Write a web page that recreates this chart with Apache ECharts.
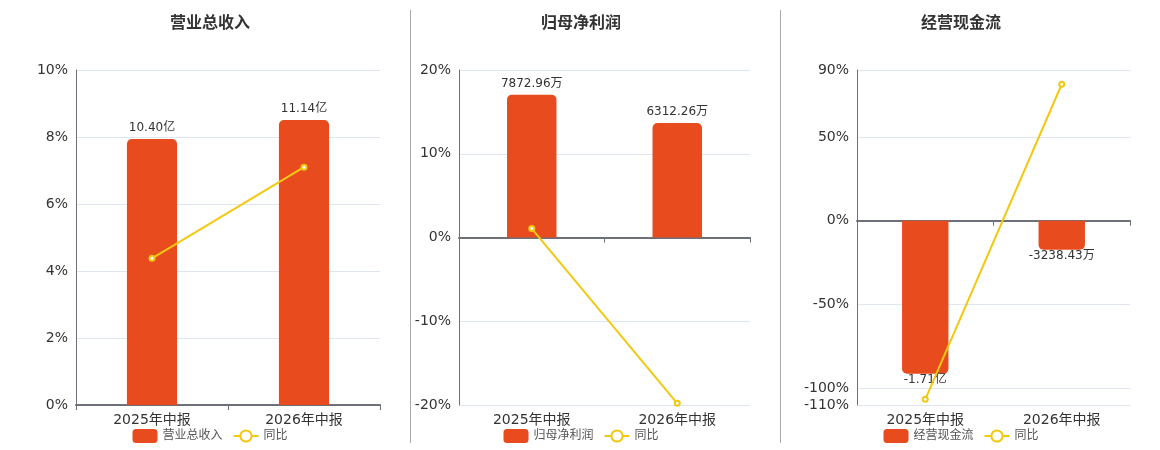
<!DOCTYPE html>
<html lang="zh">

<head>
    <meta charset="UTF-8">
    <title>财务指标</title>
    <script src="https://cdn.jsdelivr.net/npm/echarts@6/dist/echarts.min.js"></script>
    <style>
        html, body { margin: 0; padding: 0; background: #fff; }
    </style>
</head>

<body>
    <div id="main" style="width: 1160px; height: 450px;"></div>
    <script>
        // 数据（金额单位：万元，同比单位：%）
        const periods = ['2025年中报', '2026年中报'];
        const titles = ['营业总收入', '归母净利润', '经营现金流'];
        const revenue = [104000, 111400];
        const revenueYoy = [4.38, 7.10];
        const profit = [7872.96, 6312.26];
        const profitYoy = [1.07, -19.8];
        const cashflow = [-17100, -3238.43];
        const cashflowYoy = [-106.6, 81.5];

        const BAR_COLOR = '#E84C1E';
        const LINE_COLOR = '#F2C811';
        const AXIS_COLOR = '#6E7079';
        const FONT = "'DejaVu Sans', 'Noto Sans CJK SC', sans-serif";

        // 万 -> 亿 / 万 文本
        function formatWan(v) {
            if (Math.abs(v) >= 10000) return (v / 10000).toFixed(2) + '亿';
            return v.toFixed(2) + '万';
        }

        // 每个面板：网格位置、百分比轴范围、柱子隐藏轴范围
        const panels = [
            { name: titles[0], bars: revenue, yoy: revenueYoy, center: 210, left: 76, width: 304,
              pct: [0, 10], barAxis: [0, 131000], radius: [5, 5, 0, 0], barWidth: '33%' },
            { name: titles[1], bars: profit, yoy: profitYoy, center: 581, left: 459, width: 291,
              pct: [-20, 20], barAxis: [-9230, 9230], radius: [5, 5, 0, 0], barWidth: '34%' },
            { name: titles[2], bars: cashflow, yoy: cashflowYoy, center: 961, left: 857, width: 273,
              pct: [-110, 90], barAxis: [-20600, 16850], radius: [0, 0, 5, 5], barWidth: '34%' }
        ];

        const option = {
            animation: false,
            textStyle: { fontFamily: FONT },
            title: [], legend: [], grid: [], xAxis: [], yAxis: [], series: [],
            graphic: [
                { type: 'line', shape: { x1: 410.5, y1: 10, x2: 410.5, y2: 443 }, style: { stroke: '#aaa', lineWidth: 1 } },
                { type: 'line', shape: { x1: 780.5, y1: 10, x2: 780.5, y2: 443 }, style: { stroke: '#aaa', lineWidth: 1 } }
            ]
        };

        panels.forEach((p, i) => {
            option.title.push({
                text: p.name, left: p.center - 45, top: 11,
                textStyle: { fontSize: 16, fontWeight: 'bold', color: '#333', fontFamily: FONT }
            });
            option.legend.push({
                data: [p.name, '同比'], left: p.center - 82.5, top: 424,
                itemWidth: 25, itemHeight: 14, itemGap: 10,
                textStyle: { fontSize: 12, color: '#555', fontFamily: FONT }
            });
            option.grid.push({ left: p.left, top: 70, width: p.width, height: 335, outerBoundsMode: 'none' });

            // 轴线 + 刻度（在 0 处）
            option.xAxis.push({
                type: 'category', gridIndex: i, data: periods,
                axisLine: { onZero: true, lineStyle: { color: AXIS_COLOR, width: 2 } },
                axisTick: { show: true, length: 5, lineStyle: { color: AXIS_COLOR } },
                axisLabel: { show: false }
            });
            // 底部标签
            option.xAxis.push({
                type: 'category', gridIndex: i, data: periods, position: 'bottom',
                axisLine: { show: false, onZero: false }, axisTick: { show: false },
                axisLabel: { fontSize: 14, color: '#333', margin: 8, fontFamily: FONT }
            });

            option.yAxis.push({
                type: 'value', gridIndex: i, min: p.pct[0], max: p.pct[1],
                axisLine: { show: true, lineStyle: { color: AXIS_COLOR } },
                axisTick: { show: false },
                axisLabel: { formatter: '{value}%', fontSize: 14, color: '#333', fontFamily: FONT },
                splitLine: { lineStyle: { color: '#E0E6F1' } }
            });
            option.yAxis.push({
                type: 'value', gridIndex: i, show: false, min: p.barAxis[0], max: p.barAxis[1],
                splitLine: { show: false }
            });

            option.series.push({
                name: p.name, type: 'bar', xAxisIndex: i * 2, yAxisIndex: i * 2 + 1,
                data: p.bars, barWidth: p.barWidth,
                itemStyle: { color: BAR_COLOR, borderRadius: p.radius },
                label: {
                    show: true, position: p.bars[0] < 0 ? 'bottom' : 'top',
                    distance: p.bars[0] < 0 ? 0 : 5,
                    fontSize: 12, color: '#333', fontFamily: FONT,
                    formatter: (d) => formatWan(d.value)
                }
            });
            option.series.push({
                name: '同比', type: 'line', xAxisIndex: i * 2, yAxisIndex: i * 2,
                data: p.yoy, symbol: 'emptyCircle', symbolSize: 5,
                lineStyle: { color: LINE_COLOR, width: 2 },
                itemStyle: { color: LINE_COLOR }
            });
        });

        const chart = echarts.init(document.getElementById('main'));
        chart.setOption(option);
    </script>
</body>

</html>
